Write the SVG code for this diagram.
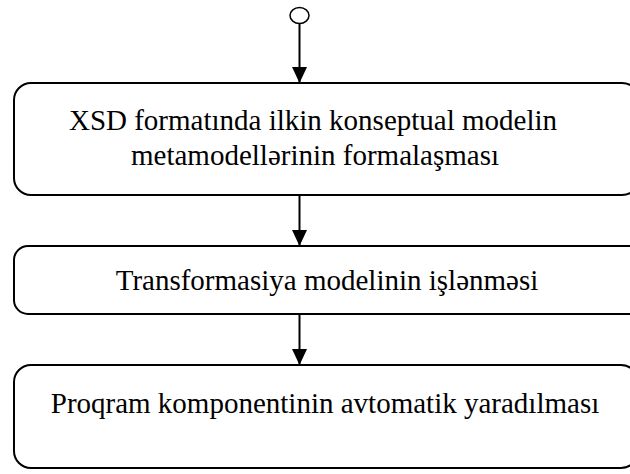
<svg xmlns="http://www.w3.org/2000/svg" width="630" height="474" viewBox="0 0 630 474">
  <style>
    .box { fill: #ffffff; stroke: #000000; stroke-width: 2; }
    .lbl { font-family: 'Liberation Serif', 'Times New Roman', serif; font-size: 29px; fill: #000000; text-anchor: middle; }
    .edge { stroke: #000000; stroke-width: 2; fill: none; }
  </style>
  <defs>
    <marker id="arrow" markerWidth="16" markerHeight="15" refX="16" refY="7.5" orient="auto" markerUnits="userSpaceOnUse">
      <path d="M0,0 L16,7.5 L0,15 Z" fill="#000000"/>
    </marker>
  </defs>
  <rect width="630" height="474" fill="#ffffff"/>

  <g id="start">
    <ellipse cx="299.5" cy="15.5" rx="9.5" ry="8" fill="#ffffff" stroke="#000000" stroke-width="1.5"/>
  </g>

  <g id="connectors">
    <line class="edge" x1="299.5" y1="24" x2="299.5" y2="83" marker-end="url(#arrow)"/>
    <line class="edge" x1="299.5" y1="195" x2="299.5" y2="246" marker-end="url(#arrow)"/>
    <line class="edge" x1="299.5" y1="314" x2="299.5" y2="365" marker-end="url(#arrow)"/>
  </g>

  <g id="step1">
    <rect class="box" x="14" y="83" width="625" height="112" rx="17" ry="17"/>
    <text class="lbl" x="313" y="130" font-family="Liberation Serif, serif" font-size="27.5">XSD formatında ilkin konseptual modelin</text>
    <text class="lbl" x="315" y="165" font-family="Liberation Serif, serif">metamodellərinin formalaşması</text>
  </g>

  <g id="step2">
    <rect class="box" x="14" y="246" width="640" height="68" rx="14" ry="14"/>
    <text class="lbl" x="327" y="290" font-family="Liberation Serif, serif">Transformasiya modelinin işlənməsi</text>
  </g>

  <g id="step3">
    <rect class="box" x="14" y="365" width="624" height="103" rx="17" ry="17"/>
    <text class="lbl" x="325" y="413" font-family="Liberation Serif, serif">Proqram komponentinin avtomatik yaradılması</text>
  </g>
</svg>
